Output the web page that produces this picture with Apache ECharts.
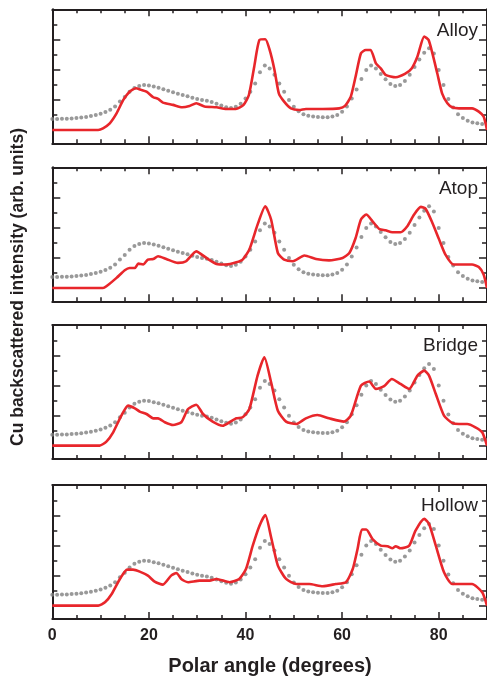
<!DOCTYPE html>
<html><head><meta charset="utf-8">
<script src="https://cdn.jsdelivr.net/npm/echarts@6/dist/echarts.min.js"></script>
<style>html,body{margin:0;padding:0;background:#fff}#c{width:487px;height:677px}</style>
</head><body><div id="c"></div>
<script>
const panelNames = ['Alloy', 'Atop', 'Bridge', 'Hollow'];
const xTitle = 'Polar angle (degrees)';
const yTitle = 'Cu backscattered intensity (arb. units)';
const xTickLabels = [0, 20, 40, 60, 80];
const xMinorTicks = [5, 10, 15, 25, 30, 35, 45, 50, 55, 65, 70, 75, 85];
const yMajorTicks = [0, 2, 4, 6];
const yMinorTicks = [1, 3, 5, 7];

// experiment (gray dots), same in every panel
const expAngles = [0,1,2,3,4,5,6,7,8,9,10,11,12,13,14,15,16,17,18,19,20,21,22,23,24,25,26,27,28,29,30,31,32,33,34,35,36,37,38,39,40,41,42,43,44,45,46,47,48,49,50,51,52,53,54,55,56,57,58,59,60,61,62,63,64,65,66,67,68,69,70,71,72,73,74,75,76,77,78,79,80,81,82,83,84,85,86,87,88,89,90];
const expValues = [0.73,0.73,0.74,0.75,0.77,0.80,0.83,0.87,0.93,1.0,1.08,1.2,1.35,1.56,1.9,2.2,2.55,2.8,2.93,3.0,2.97,2.9,2.82,2.72,2.62,2.52,2.42,2.33,2.24,2.15,2.06,2.0,1.95,1.86,1.75,1.63,1.52,1.46,1.55,1.75,2.1,2.55,3.1,3.85,4.3,4.1,3.67,3.1,2.55,2.0,1.55,1.25,1.05,0.95,0.89,0.86,0.84,0.85,0.89,1.0,1.22,1.56,2.1,2.7,3.4,4.0,4.3,4.1,3.73,3.38,3.07,2.93,3.0,3.27,3.67,4.2,4.7,5.15,5.44,5.1,4.0,3.0,2.07,1.5,1.05,0.8,0.62,0.5,0.44,0.4,0.38];

// simulations (red lines)
const alloyAngles = [0,9.5,10.5,11.9,13.3,14.7,16,17.3,18.4,19.5,20.9,21.9,22.9,25,26.9,28.4,29.8,31.5,34,36,38,39.6,40.7,41.8,42.9,44.1,45,46,46.9,48,49.4,51.1,52.5,56,59.4,60.6,61.8,62.8,63.9,64.9,65.9,67,68,69,71.1,73,74.4,75.6,77,77.9,78.7,79.7,80.7,81.8,82.8,84.2,86.9,88.3,89.3,90];
const alloyValues = [0,0,0.11,0.44,1.1,2.0,2.55,2.78,2.67,2.55,2.18,2.07,1.82,1.67,1.51,1.6,1.78,1.56,1.51,1.4,1.4,1.67,2.33,4.2,6.0,6.04,5.33,4.0,2.44,1.89,1.44,1.33,1.4,1.4,1.44,1.6,2.22,3.56,5.11,5.33,5.33,4.44,4.1,3.67,3.51,3.73,4.1,4.9,6.22,6.0,5.1,3.78,2.44,1.78,1.51,1.44,1.44,1.22,0.89,0];
const atopAngles = [0,10.5,11.2,13.3,15,16,17.1,17.8,18.8,19.8,20.9,21.9,23.6,26,27.7,29.8,31.9,34,36,38.1,39.4,40.8,42.5,44.1,45.3,46.7,48,49.8,52.2,54.6,57.3,60.1,61.5,62.8,63.9,65,66.3,67.7,69,70.4,72.1,73.5,74.9,76.3,77.3,78.7,80.1,81.4,83.1,86.9,88.3,89.3,90];
const atopValues = [0,0,0.11,0.67,1.18,1.33,1.33,1.62,1.56,1.89,1.93,2.11,1.93,1.67,1.78,2.44,2.0,1.6,1.56,1.71,1.89,2.56,4.22,5.44,4.56,2.33,1.89,1.78,2.16,1.93,1.84,2.0,2.33,3.33,4.56,4.89,4.44,3.93,3.84,3.71,3.71,4.11,4.89,5.4,5.27,4.33,3.22,2.22,1.56,1.56,1.4,0.9,0];
const bridgeAngles = [0,9.8,11.2,12.6,14.3,15.7,17.1,18.1,19.5,20.9,21.9,23.3,25,26.7,28.1,29.8,31.2,33.2,35.3,36.7,38.1,39.4,40.8,42.5,43.9,45.3,46.7,48.4,50.5,52.5,54.9,57.3,60.4,61.8,63.9,65.6,67,68.7,70.3,72.1,73.9,75.6,77,78,79.4,81.1,82.8,84.2,85.9,87.6,89,90];
const bridgeValues = [0,0,0.27,0.89,2.0,2.67,2.49,2.27,2.11,1.82,1.82,1.56,1.38,1.56,2.44,2.73,2.11,1.6,1.33,1.56,1.82,1.89,2.44,4.67,5.89,4.22,2.33,1.6,1.44,1.82,2.04,1.82,1.6,2.0,4.0,4.27,3.78,3.96,4.44,4.11,3.78,4.67,5.0,4.67,3.44,2.0,1.51,1.44,1.44,1.22,0.89,0];
const hollowAngles = [0,9.5,10.9,12.3,14,15.5,16.7,18.1,19.8,21.2,22.9,24.6,25.7,26.7,28.1,30.5,32.6,34,36.7,38.7,40.1,41.5,42.9,44.1,45.3,46.7,48.4,50.5,53.2,56,58.7,60.8,62.2,63.2,64.1,65,66.3,68,69.4,70.4,71.1,72.1,73.9,75.2,77,78,79.4,81.1,82.8,86.9,89,90];
const hollowValues = [0,0,0.22,0.78,1.78,2.4,2.4,2.27,2.0,1.6,1.4,2.0,2.18,1.78,1.56,1.67,1.67,1.78,1.56,1.78,2.44,4.0,5.33,6.04,4.56,2.67,1.78,1.44,1.44,1.29,1.44,1.56,2.44,3.78,5.07,5.07,4.44,4.0,3.96,3.82,3.96,3.82,4.0,5.0,5.78,5.44,4.0,2.22,1.44,1.44,0.89,0];

const simAngles = [alloyAngles, atopAngles, bridgeAngles, hollowAngles];
const simValues = [alloyValues, atopValues, bridgeValues, hollowValues];

const ink = '#231f20';
const font = '"Liberation Sans", Arial, sans-serif';
const panelTops = [9.3, 167.3, 325, 485];
const panelH = 134;
const yMin = -0.89, yMax = 8.04;

const grids = [], xAxes = [], yAxes = [], series = [], graphics = [];
const pair = (a, v) => a.map((x, k) => [x, v[k]]);

panelTops.forEach((top, i) => {
  grids.push({ left: 52.3, width: 435.7, top: top, height: panelH });
  const xb = (pos, ticks, len, line, label) => ({
    type: 'value', gridIndex: i, min: 0, max: 90, position: pos,
    splitLine: { show: false },
    axisLine: { show: line, onZero: false, lineStyle: { color: ink, width: 2 } },
    axisTick: { show: true, inside: true, length: len, customValues: ticks, lineStyle: { color: ink, width: 1.5 } },
    axisLabel: label ? { show: true, customValues: xTickLabels, color: ink, fontFamily: font, fontWeight: 'bold', fontSize: 16, margin: 9 } : { show: false }
  });
  xAxes.push(xb('bottom', xTickLabels, 7, true, i === 3));
  xAxes.push(xb('bottom', xMinorTicks, 4, false, false));
  xAxes.push(xb('top', xTickLabels, 7, true, false));
  xAxes.push(xb('top', xMinorTicks, 4, false, false));
  const yb = (pos, ticks, len, line) => ({
    type: 'value', gridIndex: i, min: yMin, max: yMax, position: pos,
    splitLine: { show: false },
    axisLine: { show: line, onZero: false, lineStyle: { color: ink, width: 2 } },
    axisTick: { show: true, inside: true, length: len, customValues: ticks, lineStyle: { color: ink, width: 1.5 } },
    axisLabel: { show: false }
  });
  yAxes.push(yb('left', yMajorTicks, 8, true));
  yAxes.push(yb('left', yMinorTicks, 5, false));
  yAxes.push(yb('right', yMajorTicks, 8, true));
  yAxes.push(yb('right', yMinorTicks, 5, false));

  series.push({
    type: 'scatter', xAxisIndex: i * 4, yAxisIndex: i * 4,
    data: pair(expAngles, expValues), symbol: 'circle', symbolSize: 4,
    itemStyle: { color: '#808080' }, silent: true, z: 2
  });
  series.push({
    type: 'line', xAxisIndex: i * 4, yAxisIndex: i * 4,
    data: pair(simAngles[i], simValues[i]), showSymbol: false, smooth: 0.2,
    lineStyle: { color: '#e8262b', width: 2.6, join: 'round' }, silent: true, z: 3
  });
  graphics.push({
    type: 'text', x: 478, y: top + 21,
    style: { text: panelNames[i], textAlign: 'right', textVerticalAlign: 'middle', font: '19px ' + font, fill: ink }
  });
});

graphics.push({ type: 'text', x: 270, y: 666,
  style: { text: xTitle, textAlign: 'center', textVerticalAlign: 'middle', font: 'bold 20px ' + font, fill: ink } });
graphics.push({ type: 'text', x: 18, y: 287, rotation: Math.PI / 2,
  style: { text: yTitle, textAlign: 'center', textVerticalAlign: 'middle', font: 'bold 17.5px ' + font, fill: ink } });

const chart = echarts.init(document.getElementById('c'), null, { renderer: 'canvas' });
chart.setOption({
  animation: false,
  backgroundColor: '#fff',
  grid: grids, xAxis: xAxes, yAxis: yAxes, series: series, graphic: graphics
});
</script>
</body></html>
